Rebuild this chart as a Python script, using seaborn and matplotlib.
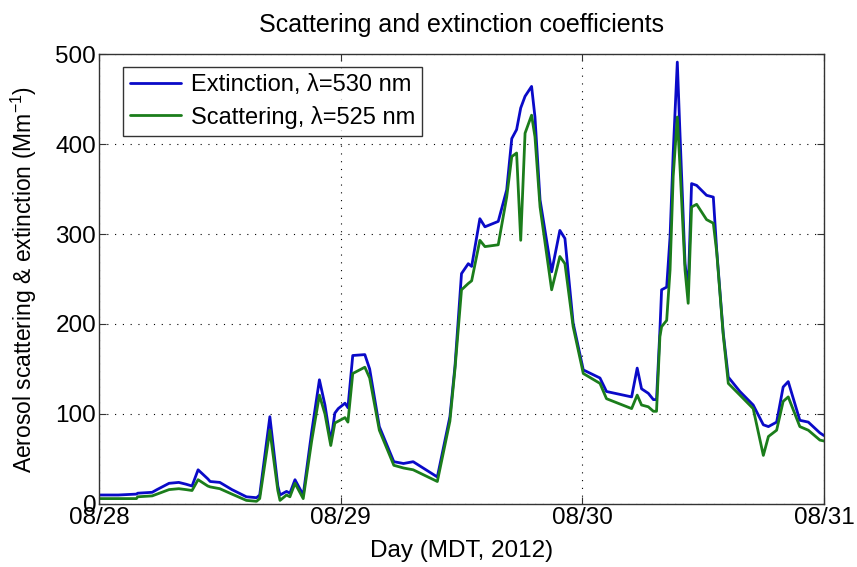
import matplotlib
matplotlib.use("Agg")
import matplotlib.pyplot as plt
import seaborn as sns
import pandas as pd

# Time in days since 08/28 00:00 (MDT, 2012)
day = [0.00, 0.08, 0.155, 0.16, 0.22, 0.24, 0.29, 0.33, 0.36, 0.385, 0.41, 0.45, 0.46, 0.50,
       0.55, 0.61, 0.652, 0.665, 0.707, 0.74, 0.749, 0.776, 0.79, 0.811, 0.845, 0.88, 0.912,
       0.935, 0.959, 0.976, 0.99, 1.018, 1.03, 1.05, 1.10, 1.12, 1.16, 1.22, 1.26, 1.30, 1.40,
       1.452, 1.473, 1.50, 1.528, 1.542, 1.576, 1.597, 1.652, 1.687, 1.708, 1.728, 1.745, 1.763,
       1.79, 1.804, 1.825, 1.873, 1.907, 1.928, 1.962, 2.004, 2.073, 2.10, 2.204, 2.227, 2.245,
       2.273, 2.294, 2.307, 2.321, 2.328, 2.349, 2.363, 2.376, 2.393, 2.404, 2.425, 2.438, 2.452,
       2.473, 2.514, 2.542, 2.556, 2.583, 2.604, 2.652, 2.707, 2.749, 2.770, 2.804, 2.831, 2.852,
       2.90, 2.935, 2.983, 3.00]

extinction = [10, 10, 11, 12, 13, 16, 23, 24, 22, 20, 38, 28, 25, 24,
              16, 8, 7, 10, 97, 20, 10, 14, 12, 27, 10, 80, 138,
              110, 69, 101, 106, 112, 107, 165, 166, 150, 86, 47, 45, 47, 30,
              97, 153, 256, 267, 264, 317, 308, 314, 349, 406, 416, 440, 453,
              464, 430, 338, 258, 304, 295, 201, 149, 140, 125, 119, 151, 128,
              123, 116, 116, 193, 238, 241, 297, 390, 491, 412, 267, 238, 356,
              354, 343, 341, 282, 190, 141, 125, 110, 88, 86, 91, 130, 136,
              93, 91, 79, 76]

scattering = [6, 6, 6, 8, 9, 11, 16, 17, 16, 15, 27, 20, 19, 17,
              11, 4, 3, 6, 82, 15, 4, 10, 8, 23, 6, 70, 121,
              100, 65, 90, 92, 96, 91, 145, 152, 140, 82, 43, 40, 38, 25,
              92, 150, 238, 245, 248, 293, 286, 288, 341, 386, 390, 293, 412,
              432, 408, 330, 238, 275, 267, 197, 145, 134, 117, 106, 121, 110,
              108, 103, 103, 186, 197, 204, 260, 364, 430, 375, 260, 223, 330,
              333, 316, 312, 280, 188, 134, 121, 106, 54, 75, 82, 114, 119,
              86, 82, 71, 70]

series_labels = ["Extinction, \u03bb=530 nm", "Scattering, \u03bb=525 nm"]
series_colors = ["#0a0ac8", "#1b7d1b"]
x_ticks = [0, 1, 2, 3]
x_ticklabels = ["08/28", "08/29", "08/30", "08/31"]
y_ticks = [0, 100, 200, 300, 400, 500]

df = pd.concat([
    pd.DataFrame({"day": day, "value": extinction, "series": series_labels[0]}),
    pd.DataFrame({"day": day, "value": scattering, "series": series_labels[1]}),
], ignore_index=True)

sns.set_style("ticks")
plt.rcParams["font.family"] = ["Liberation Sans", "DejaVu Sans"]
plt.rcParams["mathtext.fontset"] = "custom"
plt.rcParams["mathtext.rm"] = "Liberation Sans"
for key in ["text.color", "axes.labelcolor", "xtick.color", "ytick.color",
            "xtick.labelcolor", "ytick.labelcolor"]:
    plt.rcParams[key] = "black"

FS = 17.5
fig = plt.figure(figsize=(8.57, 5.67), dpi=100)
ax = fig.add_axes([99 / 857, 63 / 567, 725 / 857, 450 / 567])

sns.lineplot(data=df, x="day", y="value", hue="series",
             palette=dict(zip(series_labels, series_colors)),
             linewidth=2.0, ax=ax, sort=False, estimator=None)

ax.set_xlim(0, 3)
ax.set_ylim(0, 500)
ax.set_xticks(x_ticks)
ax.set_xticklabels(x_ticklabels)
ax.set_yticks(y_ticks)
ax.tick_params(direction="in", top=True, right=True, labelsize=FS, length=5,
               width=0.8, color="#333333", labelcolor="black", pad=2)
for s in ax.spines.values():
    s.set_linewidth(1.0)
    s.set_color("#333333")
ax.grid(True, color="black", linestyle=(0, (1, 6)), linewidth=0.8)

ax.set_title("Scattering and extinction coefficients", fontsize=18, pad=16,
             color="black")
ax.set_xlabel("Day (MDT, 2012)", fontsize=FS, labelpad=8, color="black")
ax.set_ylabel("Aerosol scattering & extinction (Mm$^{\\mathregular{-1}}$)",
              fontsize=16.5, labelpad=12, color="black")

leg = ax.legend(loc="upper left", bbox_to_anchor=(0.033, 0.971), fontsize=17,
                frameon=True, fancybox=False, shadow=False, borderaxespad=0,
                handlelength=2.16, handletextpad=0.42, labelspacing=0.4,
                borderpad=0.3)
leg.get_frame().set_edgecolor("black")
leg.get_frame().set_linewidth(1.0)
for t in leg.get_texts():
    t.set_color("black")
leg.set_title(None)

fig.savefig("out.png", dpi=100)
